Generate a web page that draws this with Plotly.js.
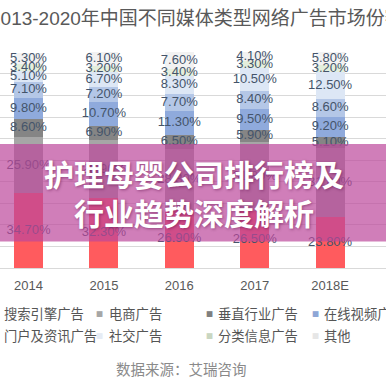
<!DOCTYPE html>
<html>
<head>
<meta charset="utf-8">
<script src="https://cdn.plot.ly/plotly-3.0.1.min.js"></script>
<style>html,body{margin:0;padding:0;background:#fff;}#chart{width:386px;height:386px;}</style>
</head>
<body>
<div id="chart"></div>
<script>
// ---- data ----
const years = ['2014', '2015', '2016', '2017', '2018E'];
const seriesNames = ['搜索引擎广告', '电商广告', '垂直行业广告', '在线视频广告', '门户及资讯广告', '社交广告', '分类信息广告', '其他'];
const search   = [34.7, 32.3, 26.9, 26.5, 23.8];
const ecommerce = [25.9, 26.9, 28.3, 31.8, 31.8];
const vertical = [8.6, 6.9, 6.5, 5.9, 5.1];
const video    = [9.8, 10.7, 11.3, 9.5, 9.2];
const portal   = [7.1, 7.2, 7.7, 8.4, 8.6];
const social   = [5.1, 6.7, 8.3, 10.5, 12.5];
const classified = [3.4, 3.2, 3.4, 3.3, 3.2];
const other    = [5.3, 6.1, 7.6, 4.1, 5.8];
const titleText = '2013-2020年中国不同媒体类型网络广告市场份额';
const bannerLine1 = '护理母婴公司排行榜及';
const bannerLine2 = '行业趋势深度解析';
const sourceText = '数据来源：艾瑞咨询';

// ---- styles ----
const seriesValues = [search, ecommerce, vertical, video, portal, social, classified, other];
const barColors = ['#FF5B5E', '#A6A6A6', '#858585', '#8FAADC', '#B4C7E7', '#DDE7F5', '#E4EFDC', '#F2F2F2'];
const legendColors = ['#FF5B5E', '#A6A6A6', '#7F7F7F', '#8EA6D6', '#B4C7E7', '#E6ECF5', '#C9D6C1', '#E6E6E6'];
const FONT = 'Liberation Sans, Noto Sans CJK SC, sans-serif';
const CJK = 'Noto Sans CJK SC, sans-serif';
const W = 386, T = 52, PH = 216;
const py = px => (W - 118 - px) / PH;   // pixel y -> paper y
const pxx = px => px / W;              // pixel x -> paper x

const traces = [];
const cum = years.map(() => 0);
seriesValues.forEach((vals, i) => {
  traces.push({
    type: 'bar', x: years, y: vals, name: seriesNames[i],
    marker: {color: barColors[i], line: {width: 0}},
    width: 0.385, hoverinfo: 'skip', showlegend: false
  });
});
// data labels at segment centers
seriesValues.forEach((vals, i) => {
  const mids = vals.map((v, j) => { const m = cum[j] + v / 2; cum[j] += v; return m; });
  traces.push({
    type: 'scatter', mode: 'text', x: years, y: mids,
    text: vals.map(v => v.toFixed(2) + '%'),
    textposition: 'middle center',
    textfont: {family: FONT, size: 13, color: '#44546A'},
    cliponaxis: false, hoverinfo: 'skip', showlegend: false
  });
});

const annotations = [];
annotations.push({
  xref: 'paper', yref: 'paper', x: pxx(-12), y: py(18.5), xanchor: 'left', yanchor: 'middle',
  text: titleText, showarrow: false, font: {family: FONT, size: 19, color: '#595959'}
});
// legend (4 columns x 2 rows)
const colText = [2.5, 108, 217, 323];
const rowY = [313, 335];
seriesNames.forEach((n, i) => {
  const r = Math.floor(i / 4), c = i % 4;
  annotations.push({
    xref: 'paper', yref: 'paper', x: pxx(colText[c] - 1), y: py(rowY[r]), xanchor: 'left', yanchor: 'middle',
    text: n, showarrow: false, font: {family: CJK, size: 13.3, color: '#555555'}
  });
  annotations.push({
    xref: 'paper', yref: 'paper', x: pxx(colText[c] - 8), y: py(rowY[r]), xanchor: 'center', yanchor: 'middle',
    text: '■', showarrow: false, font: {family: 'DejaVu Sans', size: 7.5, color: legendColors[i]}
  });
});
annotations.push({
  xref: 'paper', yref: 'paper', x: pxx(181), y: py(368), xanchor: 'center', yanchor: 'middle',
  text: sourceText, showarrow: false, font: {family: CJK, size: 14.5, color: '#8A8A8A'}
});
annotations.push({
  xref: 'paper', yref: 'paper', x: pxx(193.5), y: py(173), xanchor: 'center', yanchor: 'middle',
  text: '<b>' + bannerLine1 + '</b>', showarrow: false,
  font: {family: CJK, size: 30, color: '#FFFFFF', shadow: '1px 1px 3px rgba(80,0,60,0.45)'}
});
annotations.push({
  xref: 'paper', yref: 'paper', x: pxx(194), y: py(212), xanchor: 'center', yanchor: 'middle',
  text: '<b>' + bannerLine2 + '</b>', showarrow: false,
  font: {family: CJK, size: 30, color: '#FFFFFF', shadow: '1px 1px 3px rgba(80,0,60,0.45)'}
});

const layout = {
  width: 386, height: 386,
  margin: {l: 0, r: 0, t: T, b: 118, pad: 0},
  paper_bgcolor: '#FFFFFF', plot_bgcolor: '#FFFFFF',
  barmode: 'stack', showlegend: false,
  xaxis: {
    type: 'category', range: [-0.378, 4.741], showgrid: false, zeroline: false,
    showline: true, linecolor: '#D9D9D9', linewidth: 1, ticks: '',
    ticklabelstandoff: 5,
    tickfont: {family: FONT, size: 13, color: '#595959'}, fixedrange: true
  },
  yaxis: {
    range: [0, 100.2], dtick: 10, tick0: 0, showticklabels: false, ticks: '',
    showgrid: true, gridcolor: '#D9D9D9', gridwidth: 1, zeroline: false, fixedrange: true
  },
  shapes: [{
    type: 'rect', xref: 'paper', yref: 'paper', layer: 'above',
    x0: -0.02, x1: 1.02, y0: py(241.5), y1: py(144),
    fillcolor: 'rgba(188,71,155,0.70)', line: {width: 0}
  }],
  annotations: annotations
};

Plotly.newPlot('chart', traces, layout, {displayModeBar: false, staticPlot: true});
</script>
</body>
</html>
